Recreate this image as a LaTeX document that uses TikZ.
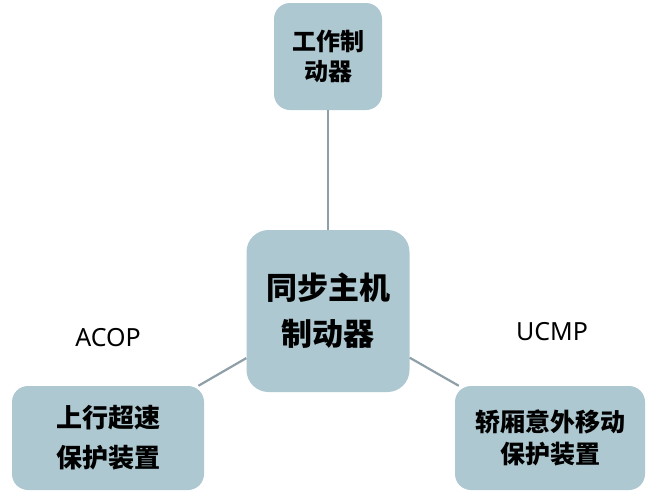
\documentclass[tikz,border=0pt]{standalone}
\usepackage{fontspec}
\setmainfont{Noto Sans}
\newfontfamily\cjk{Noto Sans CJK SC}
\begin{document}
\begin{tikzpicture}[x=1pt,y=-1pt,
  box/.style={draw=none,fill=boxc,rounded corners=16pt,align=center,font=\cjk\bfseries,inner sep=0pt},
  link/.style={draw=linec,line width=2.2pt},
  lab/.style={font=\fontsize{25}{28}\selectfont}]
\definecolor{boxc}{HTML}{AEC8D1}
\definecolor{linec}{HTML}{8E9FA8}
\useasboundingbox (0,0) rectangle (650,496);
\node[box,minimum width=108pt,minimum height=107pt,font=\cjk\bfseries\fontsize{24}{30}\selectfont] (top) at (328,56.5) {工作制\\动器};
\node[box,minimum width=163pt,minimum height=162pt,font=\cjk\bfseries\fontsize{31}{46}\selectfont,rounded corners=22pt] (c) at (328,311) {同步主机\\制动器};
\node[box,minimum width=192pt,minimum height=104pt,font=\cjk\bfseries\fontsize{26}{40}\selectfont] (l) at (108,438) {上行超速\\保护装置};
\node[box,minimum width=190pt,minimum height=104pt,font=\cjk\bfseries\fontsize{25}{32}\selectfont] (r) at (550,438) {轿厢意外移动\\保护装置};
\draw[link] (top) -- (c);
\draw[link] (c) -- (l);
\draw[link] (c) -- (r);
\node[lab] (acop) at (108,338) {ACOP};
\node[lab] (ucmp) at (552,332) {UCMP};
\end{tikzpicture}
\end{document}
